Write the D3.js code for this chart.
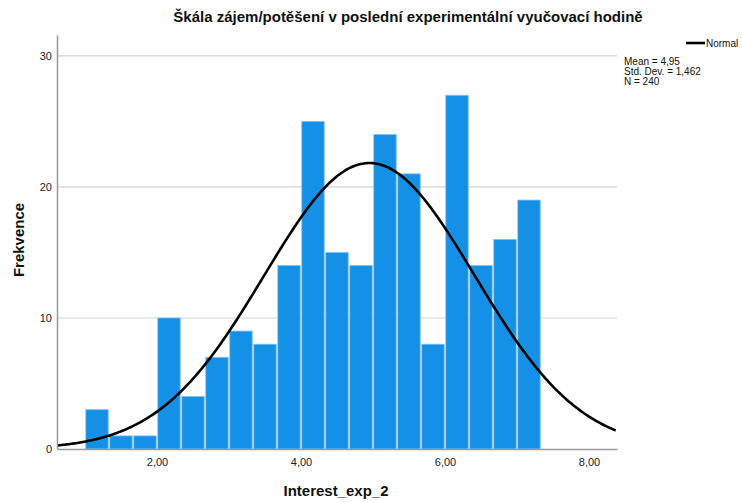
<!DOCTYPE html>
<html>
<head>
<meta charset="utf-8">
<script src="https://cdn.jsdelivr.net/npm/d3@7"></script>
<style>
  html, body { margin: 0; padding: 0; background: #fff; }
  svg { display: block; font-family: Arial, "Liberation Sans", sans-serif; }
</style>
</head>
<body>
<svg id="chart" width="742" height="502"></svg>
<script>
// Histogram bins: lower edges (width 1/3) and frequencies
const binStarts = [1, 4/3, 5/3, 2, 7/3, 8/3, 3, 10/3, 11/3, 4, 13/3, 14/3, 5, 16/3, 17/3, 6, 19/3, 20/3, 7];
const binWidth = 1/3;
const counts = [3, 1, 1, 10, 4, 7, 9, 8, 14, 25, 15, 14, 24, 21, 8, 27, 14, 16, 19];

// Summary statistics of the sample
const stats = { mean: 4.95, sd: 1.462, n: 240 };
const statLabels = ["Mean = 4,95", "Std. Dev. = 1,462", "N = 240"];

// Axis ticks
const xTicks = [2, 4, 6, 8];
const yTicks = [0, 10, 20, 30];

const svg = d3.select("#chart");
const plotL = 57, plotR = 617, plotT = 35, plotB = 449;

const x = d3.scaleLinear().domain([0.611, 8.389]).range([plotL, plotR]);
const y = d3.scaleLinear().domain([0, 31.6]).range([plotB, plotT]);

const fmt = v => v.toFixed(2).replace(".", ",");

// Gridlines
svg.append("g").selectAll("line")
  .data(yTicks.filter(d => d > 0))
  .join("line")
  .attr("x1", plotL).attr("x2", plotR)
  .attr("y1", d => y(d)).attr("y2", d => y(d))
  .attr("stroke", "#d4d4d4").attr("stroke-width", 1.2);

// Bars
svg.append("g").selectAll("rect")
  .data(counts.map((c, i) => ({ x0: binStarts[i], c })))
  .join("rect")
  .attr("x", d => x(d.x0) + 0.8)
  .attr("width", d => x(d.x0 + binWidth) - x(d.x0) - 1.6)
  .attr("y", d => y(d.c))
  .attr("height", d => y(0) - y(d.c))
  .attr("fill", "#1491e6")
  .attr("stroke", "#7cc0f2")
  .attr("stroke-width", 0.8);

// Fitted normal curve scaled to counts
const pdf = v => Math.exp(-0.5 * ((v - stats.mean) / stats.sd) ** 2) / (stats.sd * Math.sqrt(2 * Math.PI));
const curveXs = d3.range(0.611, 8.39, 0.02);
svg.append("defs").append("clipPath").attr("id", "plotclip")
  .append("rect").attr("x", plotL).attr("y", plotT).attr("width", plotR - plotL).attr("height", plotB - plotT);
svg.append("path")
  .datum(curveXs)
  .attr("clip-path", "url(#plotclip)")
  .attr("fill", "none")
  .attr("stroke", "#000")
  .attr("stroke-width", 2.6)
  .attr("d", d3.line().x(d => x(d)).y(d => y(stats.n * binWidth * pdf(d))));

// Axes
const xAxis = svg.append("g").attr("transform", `translate(0,${plotB})`)
  .call(d3.axisBottom(x).tickValues(xTicks).tickFormat(fmt).tickSize(0).tickPadding(9));
xAxis.select(".domain").attr("stroke", "#999").attr("stroke-width", 1.5);
xAxis.selectAll("text").attr("font-size", 11).attr("fill", "#222").attr("font-family", "Arial, 'Liberation Sans', sans-serif");

const yAxis = svg.append("g").attr("transform", `translate(${plotL},0)`)
  .call(d3.axisLeft(y).tickValues(yTicks).tickFormat(d3.format("d")).tickSize(0).tickPadding(5));
yAxis.select(".domain").attr("stroke", "#999").attr("stroke-width", 1.5);
yAxis.selectAll("text").attr("font-size", 11).attr("fill", "#222").attr("font-family", "Arial, 'Liberation Sans', sans-serif");

// Title and axis titles
svg.append("text")
  .attr("x", 408).attr("y", 22)
  .attr("text-anchor", "middle")
  .attr("font-size", 15).attr("font-weight", "bold").attr("fill", "#111")
  .text("Škála zájem/potěšení v poslední experimentální vyučovací hodině");

svg.append("text")
  .attr("x", 336).attr("y", 496)
  .attr("text-anchor", "middle")
  .attr("font-size", 15).attr("font-weight", "bold").attr("fill", "#111")
  .text("Interest_exp_2");

svg.append("text")
  .attr("transform", "translate(24,240) rotate(-90)")
  .attr("text-anchor", "middle")
  .attr("font-size", 15).attr("font-weight", "bold").attr("fill", "#111")
  .text("Frekvence");

// Legend
svg.append("line")
  .attr("x1", 686).attr("x2", 705).attr("y1", 43).attr("y2", 43)
  .attr("stroke", "#000").attr("stroke-width", 2.6);
svg.append("text")
  .attr("x", 706).attr("y", 47)
  .attr("font-size", 10).attr("fill", "#111")
  .text("Normal");

svg.append("g").selectAll("text")
  .data(statLabels)
  .join("text")
  .attr("x", 624).attr("y", (d, i) => 65 + i * 10)
  .attr("font-size", 10).attr("fill", "#111")
  .text(d => d);
</script>
</body>
</html>
